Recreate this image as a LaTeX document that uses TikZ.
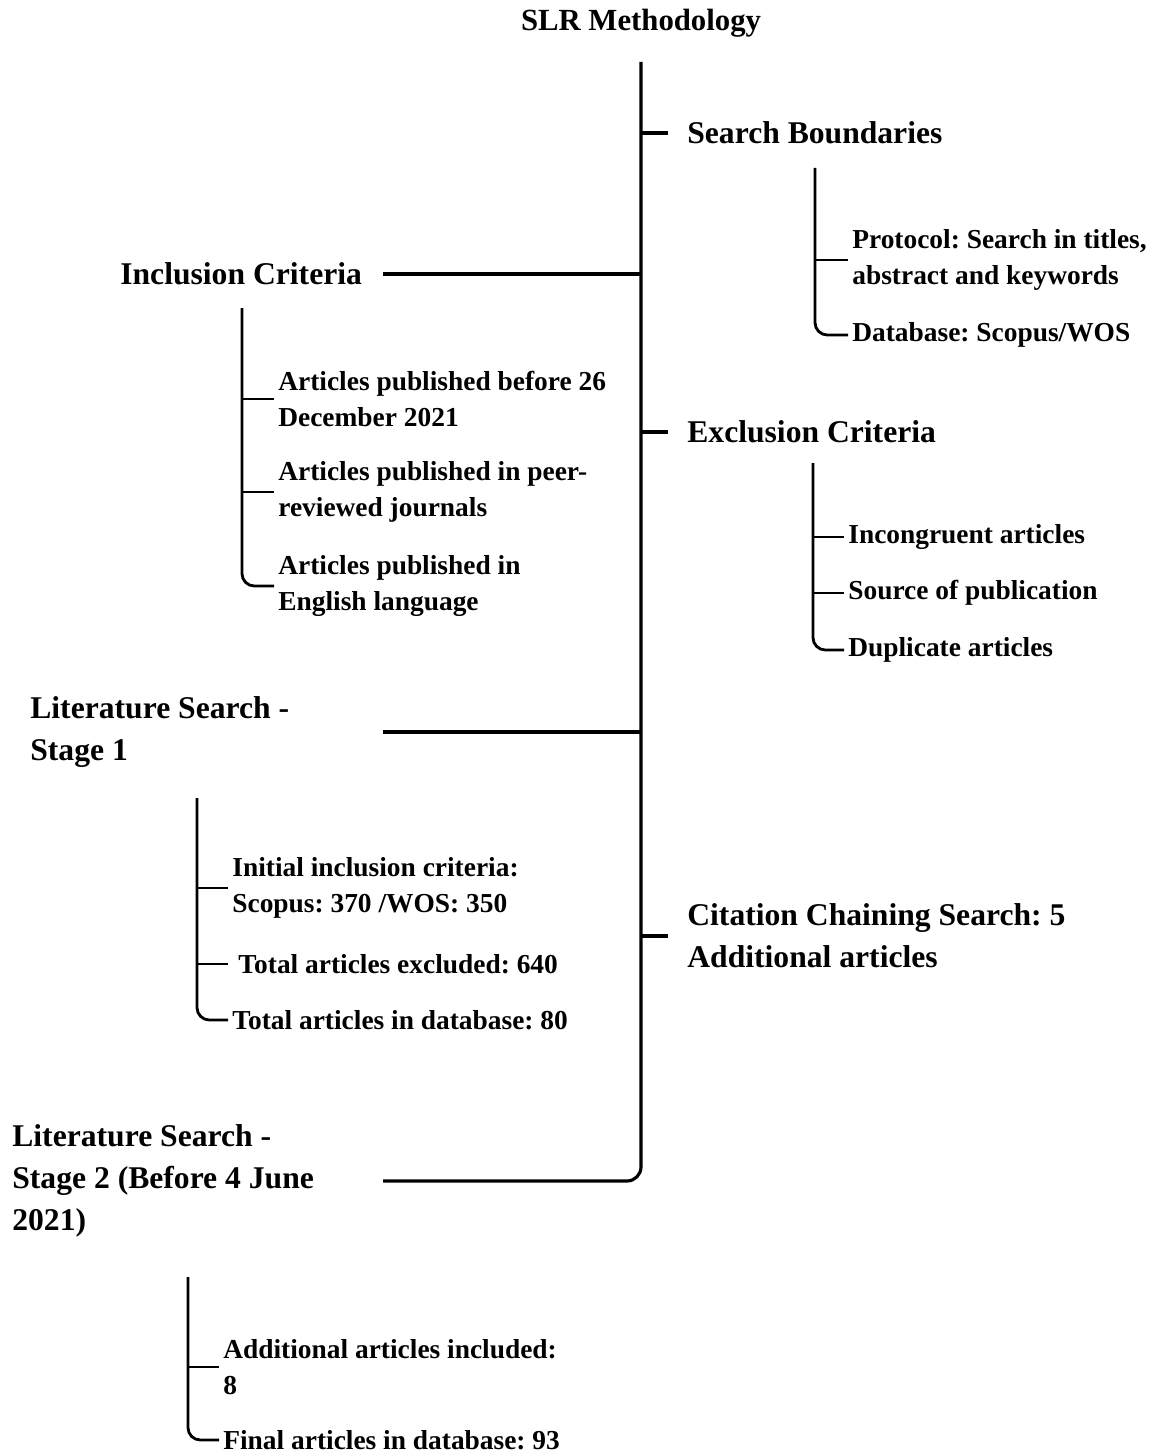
\documentclass[tikz,border=0pt]{standalone}
\usepackage{fontspec}
\setmainfont{Liberation Serif}
\usepackage{tikz}
\usetikzlibrary{positioning}
\tikzstyle{trunk} = [line width=1.8pt, rounded corners=8pt]
\tikzstyle{branch} = [line width=1.6pt, rounded corners=7pt]
\frenchspacing

\begin{document}
\begin{tikzpicture}[x=0.02cm, y=-0.02cm]
    \tikzstyle{head} = [anchor=west, align=left, inner xsep=0pt, inner ysep=0pt, font=\bfseries\fontsize{18}{23.9}\selectfont]
    \tikzstyle{item} = [anchor=west, align=left, inner xsep=0.08cm, inner ysep=0pt, font=\bfseries\fontsize{15.6}{20.5}\selectfont]

    \useasboundingbox (0,0) rectangle (1153,1453);

    \node[font=\bfseries\fontsize{17.5}{22}\selectfont] (title) at (641,23) {SLR Methodology};

    % right side
    \node[head] (sb) at (687,133) {Search Boundaries};
    \node[item] (protocol) at (848,260) {Protocol: Search in titles,\\abstract and keywords};
    \node[item] (database) at (848,335) {Database: Scopus/WOS};
    \node[head] (exc) at (687,432) {Exclusion Criteria};
    \node[item] (incong) at (844,537) {Incongruent articles};
    \node[item] (source) at (844,593) {Source of publication};
    \node[item] (dup) at (844,650) {Duplicate articles};
    \node[head] (cite) at (687,936) {Citation Chaining Search: 5\\Additional articles};

    % left side
    \node[head] (inc) at (120,274) {Inclusion Criteria};
    \node[item] (art1) at (274,399) {Articles published before 26\\December 2021};
    \node[item] (art2) at (274,492) {Articles published in peer-\\reviewed journals};
    \node[item] (art3) at (274,586) {Articles published in\\English language};
    \node[head] (ls1) at (30,732) {Literature Search -\\Stage 1};
    \node[item] (init) at (228,888) {Initial inclusion criteria:\\Scopus: 370 /WOS: 350};
    \node[item] (excl) at (228,964) {\hspace{0.22em}Total articles excluded: 640};
    \node[item] (total) at (228,1020) {Total articles in database: 80};
    \node[head] (ls2) at (12,1181) {Literature Search -\\Stage 2 (Before 4 June\\2021)};
    \node[item] (addl) at (219,1367) {Additional articles included:\\8};
    \node[item] (final) at (219,1440) {Final articles in database: 93};

    \coordinate (trunktop) at (641,62);
    \coordinate (lstart) at (383,0);
    \coordinate (sbroot) at (815,168);
    \coordinate (excroot) at (813,463);
    \coordinate (incroot) at (242,308);
    \coordinate (ls1root) at (197,798);
    \coordinate (ls2root) at (188,1277);

    % main trunk
    \draw[trunk] (trunktop) |- (lstart |- ls2.west);
    \draw[trunk] (trunktop |- sb.west) -- ([xshift=-0.38cm]sb.west);
    \draw[trunk] (trunktop |- exc.west) -- ([xshift=-0.38cm]exc.west);
    \draw[trunk] (trunktop |- cite.west) -- ([xshift=-0.38cm]cite.west);
    \draw[trunk] (lstart |- inc.west) -- (trunktop |- inc.west);
    \draw[trunk] (lstart |- ls1.west) -- (trunktop |- ls1.west);

    % sub trees
    \draw[branch] (sbroot) |- (database.west);
    \draw[branch] (sbroot |- protocol.west) -- (protocol.west);

    \draw[branch] (excroot) |- (dup.west);
    \draw[branch] (excroot |- incong.west) -- (incong.west);
    \draw[branch] (excroot |- source.west) -- (source.west);

    \draw[branch] (incroot) |- (art3.west);
    \draw[branch] (incroot |- art1.west) -- (art1.west);
    \draw[branch] (incroot |- art2.west) -- (art2.west);

    \draw[branch] (ls1root) |- (total.west);
    \draw[branch] (ls1root |- init.west) -- (init.west);
    \draw[branch] (ls1root |- excl.west) -- (excl.west);

    \draw[branch] (ls2root) |- (final.west);
    \draw[branch] (ls2root |- addl.west) -- (addl.west);
\end{tikzpicture}
\end{document}
